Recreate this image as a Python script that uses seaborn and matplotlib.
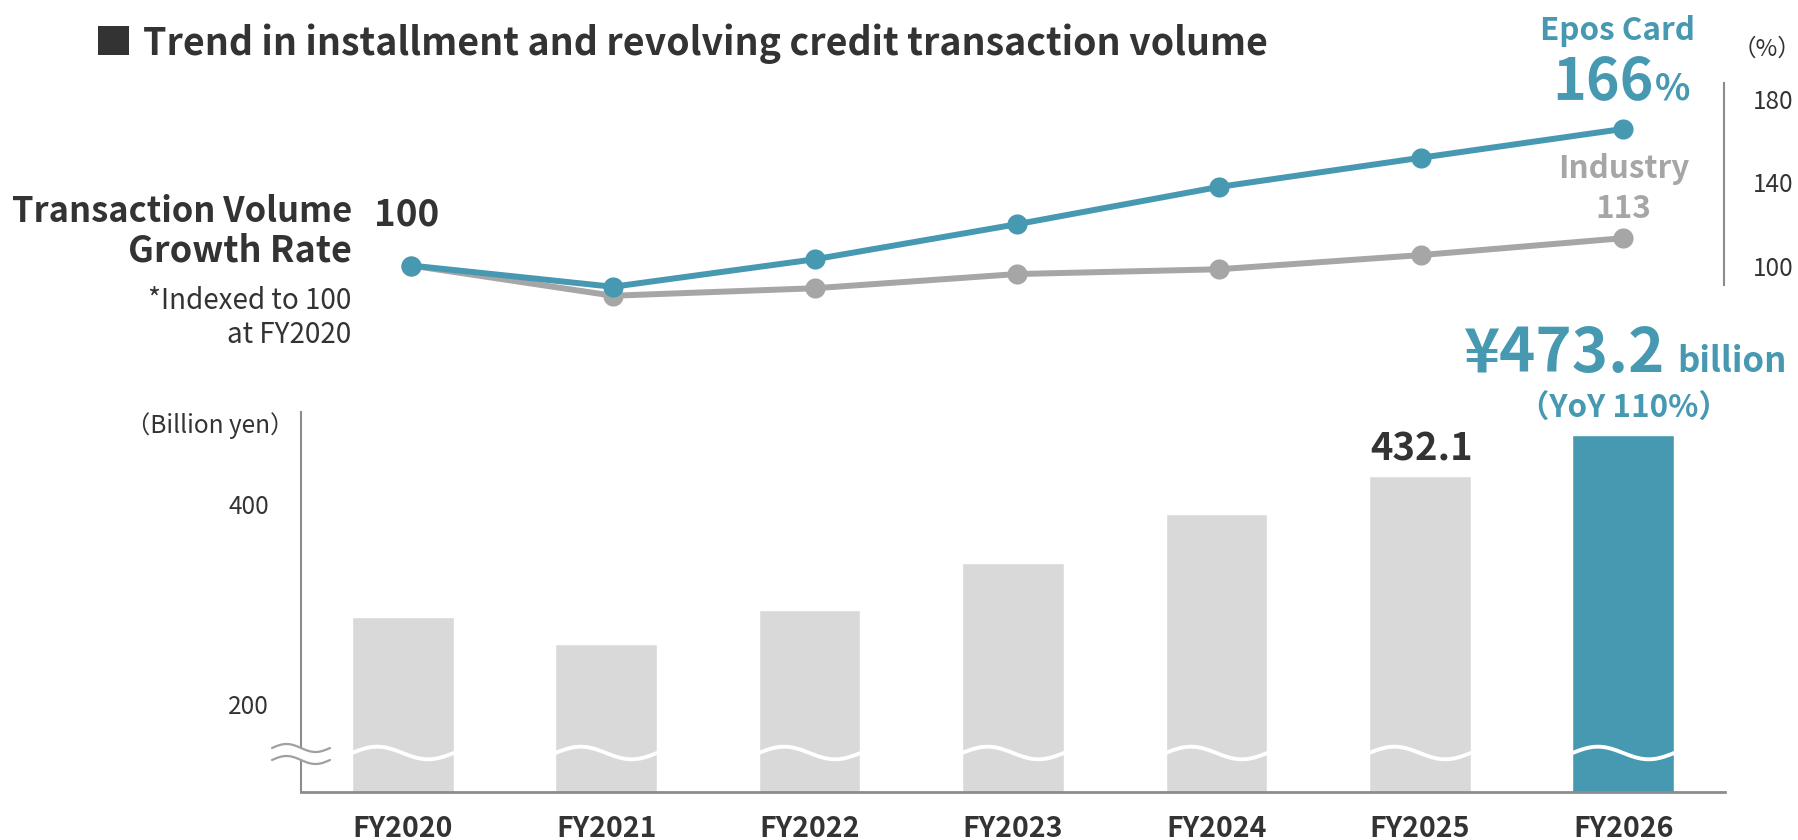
import numpy as np
import pandas as pd
import matplotlib
matplotlib.use("Agg")
import matplotlib.pyplot as plt
from matplotlib.patches import Rectangle, Polygon
from matplotlib.lines import Line2D
from matplotlib.transforms import ScaledTranslation
import seaborn as sns

# ---- data ------------------------------------------------------------------
years = ["FY2020", "FY2021", "FY2022", "FY2023", "FY2024", "FY2025", "FY2026"]
volume = [291.5, 265.0, 299.0, 345.5, 394.5, 432.1, 473.2]      # billion yen
epos_index = [100, 89.8, 103.0, 119.8, 137.7, 151.7, 165.5]      # FY2020 = 100
industry_index = [100, 85.5, 89.1, 95.9, 98.2, 105.0, 113.1]
bar_ticks = [200, 400]
index_ticks = [100, 140, 180]

W, H = 1798, 840
TEAL = "#4699B1"
GRAY_LINE = "#A6A6A6"
GRAY_BAR = "#D9D9D9"
DARK = "#333333"
AXIS = "#8C8C8C"


def fx(x):
    return x / W


def fy(y):
    return 1 - y / H


def label(x, y, s, size, ha="left", weight="bold", color=DARK, va="baseline"):
    fig.text(fx(x), fy(y), s, ha=ha, va=va, fontsize=size,
             fontweight=weight, color=color)


sns.set_style("white")
plt.rcParams["font.family"] = ["Noto Sans CJK JP", "DejaVu Sans"]

fig = plt.figure(figsize=(W / 100, H / 100), dpi=100)

# ---- bar chart (transaction volume) ---------------------------------------
ax = fig.add_axes([fx(301), fy(791.7), (1725 - 301) / W, (791.7 - 412) / H])
sns.barplot(x=years, y=volume, hue=years, palette=[GRAY_BAR] * 6 + [TEAL],
            legend=False, width=0.5, saturation=1, ax=ax)
ax.set_xlim(-0.5, 6.5)
ax.set_ylim(116.8, 496.5)
sns.despine(ax=ax)
ax.spines["left"].set_color(AXIS)
ax.spines["left"].set_linewidth(1.5)
ax.spines["bottom"].set_color(AXIS)
ax.spines["bottom"].set_linewidth(2)
ax.set_yticks(bar_ticks)
ax.tick_params(axis="y", length=0, pad=23, labelsize=17.5, labelcolor=DARK)
ax.tick_params(axis="x", length=0, pad=16.5, labelsize=20.5, labelcolor=DARK)
for t in ax.get_xticklabels():
    t.set_fontweight("bold")
for t in ax.get_yticklabels():
    t.set_transform(t.get_transform() + ScaledTranslation(0, 4 / 100, fig.dpi_scale_trans))
ax.set_xlabel("")
ax.set_ylabel("")

# white wavy break across each bar
tt = np.linspace(0, 1, 80)
for p in ax.patches:
    ax.plot(p.get_x() + p.get_width() * tt, 155.5 + 6.3 * np.sin(2 * np.pi * tt),
            color="white", lw=2.8, solid_capstyle="round", zorder=5)

# break mark on the y axis
bx = np.linspace(272, 330, 60)
up = 748 - 4 * np.sin(2 * np.pi * (bx - 272) / 58)
lo = up + 12
fig.add_artist(Polygon(np.column_stack([fx(np.r_[bx, bx[::-1]]),
                                        fy(np.r_[up, lo[::-1]])]),
                       closed=True, facecolor="white", edgecolor="none",
                       transform=fig.transFigure, zorder=6))
for yy in (up, lo):
    fig.add_artist(Line2D(fx(bx), fy(yy), color="#A0A0A0", lw=1.6,
                          transform=fig.transFigure, zorder=7))

# ---- line chart (growth index) --------------------------------------------
ax2 = fig.add_axes([fx(310), fy(307.2), (1723.5 - 310) / W, (307.2 - 77.96) / H])
df = pd.DataFrame({"year": years * 2,
                   "index": industry_index + epos_index,
                   "series": ["Industry"] * 7 + ["Epos Card"] * 7})
sns.lineplot(data=df, x="year", y="index", hue="series",
             hue_order=["Industry", "Epos Card"],
             palette={"Industry": GRAY_LINE, "Epos Card": TEAL},
             marker="o", markersize=14.5, markeredgewidth=0, linewidth=4.3,
             legend=False, sort=False, ax=ax2)
ax2.set_xlim(-0.5, 6.5)
ax2.set_ylim(80, 190)
ax2.patch.set_alpha(0)
for s in ("top", "left", "bottom"):
    ax2.spines[s].set_visible(False)
ax2.spines["right"].set_bounds(90.6, 187.7)
ax2.spines["right"].set_color(AXIS)
ax2.spines["right"].set_linewidth(1.5)
ax2.yaxis.tick_right()
ax2.set_yticks(index_ticks)
ax2.set_xticks([])
ax2.tick_params(axis="y", length=0, pad=21, labelsize=17.5, labelcolor=DARK)
ax2.set_xlabel("")
ax2.set_ylabel("")

# ---- texts ----------------------------------------------------------------
fig.add_artist(Rectangle((fx(98.3), fy(55)), 31 / W, 29 / H, facecolor=DARK,
                         edgecolor="none", transform=fig.transFigure))
label(143, 55, "Trend in installment and revolving credit transaction volume", 27)

label(352, 221.7, "Transaction Volume", 24.8, ha="right")
label(352, 261.7, "Growth Rate", 26, ha="right")
label(351, 309.3, "*Indexed to 100", 20, ha="right", weight="normal")
label(351, 343.3, "at FY2020", 20, ha="right", weight="normal")
label(407, 225, f"{epos_index[0]:.0f}", 26.5, ha="center")

label(1618, 40, "Epos Card", 22.6, ha="center", color=TEAL)
label(1654, 99, f"{round(epos_index[-1]) + 0.5:.0f}", 41.3, ha="right", color=TEAL)
label(1655, 99, "%", 26.5, color=TEAL)
label(1624, 178, "Industry", 22.6, ha="center", color=GRAY_LINE)
label(1623, 218, f"{round(industry_index[-1])}", 22.6, ha="center", color=GRAY_LINE)
label(1767, 49, "（%）", 17, ha="center", weight="normal", va="center")

label(1665, 372, f"¥{volume[-1]:.1f}", 44.2, ha="right", color=TEAL)
label(1677, 372, "billion", 25, color=TEAL)
label(1624, 418, f"（YoY {volume[-1] / volume[-2] * 100:.0f}%）", 22.6,
      ha="center", color=TEAL)
label(1422, 460, f"{volume[-2]:.1f}", 27.5, ha="center")
label(210, 433, "（Billion yen）", 17.5, ha="center", weight="normal")

fig.savefig("out.png", dpi=100)
